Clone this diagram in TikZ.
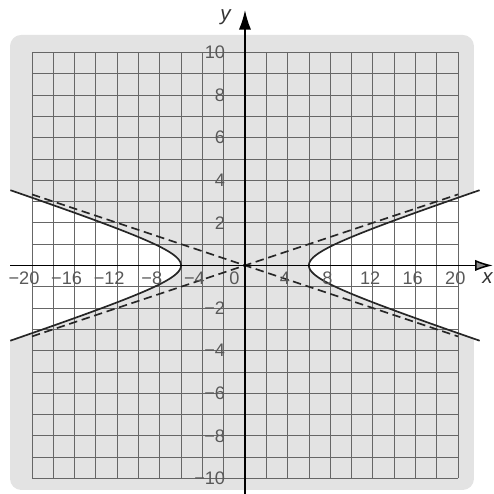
\documentclass[tikz,border=0pt]{standalone}
\usepackage{fontspec}
\setmainfont{Liberation Sans}
\usetikzlibrary{arrows.meta}
\def\tick{\fontsize{9.7}{11}\selectfont}
\def\mn{\llap{−}}

\begin{document}
\begin{tikzpicture}[x=0.2cm,y=0.4cm,font=\tick,text=black!65]
    \useasboundingbox (-23,-10.73) rectangle (23.38,12.46);

    % shaded region, white inside the two branches
    \fill[black!11,rounded corners=6pt] (-22.06,-10.54) rectangle (21.5,10.82);
    \fill[white] plot[domain=-2:2,samples=40] ({-6*cosh(\x)},{sinh(\x)}) -- (-23.5,3.63) -- (-23.5,-3.63) -- cycle;
    \fill[white] plot[domain=-2:2,samples=40] ({6*cosh(\x)},{sinh(\x)}) -- (23.5,3.63) -- (23.5,-3.63) -- cycle;

    \draw[black!60,line width=0.4pt,xstep=2,ystep=1] (-20,-10) grid (20,10);

    % asymptotes
    \coordinate (al) at (-20,-3.333);
    \coordinate (ar) at (20,3.333);
    \coordinate (bl) at (-20,3.333);
    \coordinate (br) at (20,-3.333);
    \draw[black!85,line width=0.9pt,dash pattern=on 4.5pt off 2.5pt] (al) -- (ar);
    \draw[black!85,line width=0.9pt,dash pattern=on 4.5pt off 2.5pt] (bl) -- (br);

    % hyperbola
    \draw[black!85,line width=0.9pt] plot[domain=-1.975:1.975,samples=60,smooth] ({-6*cosh(\x)},{sinh(\x)});
    \draw[black!85,line width=0.9pt] plot[domain=-1.975:1.975,samples=60,smooth] ({6*cosh(\x)},{sinh(\x)});

    % axes
    \coordinate (xl) at (-22.06,0);
    \coordinate (xr) at (23.28,0);
    \coordinate (yb) at (0,-10.73);
    \coordinate (yt) at (0,11.99);
    \draw[line width=0.8pt,-{Latex[length=9.5pt,width=6pt,fill=black!45]}] (xl) -- (xr);
    \draw[line width=0.8pt,-{Latex[length=10.5pt,width=6.5pt]}] (yb) -- (yt);
    \draw (23.38,-0.6) node[anchor=east,inner sep=0.5pt,font=\fontsize{11}{13}\selectfont\itshape,text=black!80] (xlab) {x};
    \draw (-1.83,11.66) node[font=\fontsize{11}{13}\selectfont\itshape,text=black!80] (ylab) {y};

    % x labels
    \draw (-20.25,-0.6) node[] (xm20) {\mn20};
    \draw (-16.25,-0.6) node[] (xm16) {\mn16};
    \draw (-12.25,-0.6) node[] (xm12) {\mn12};
    \draw (-8.25,-0.6) node[] (xm8) {\mn8};
    \draw (-4.25,-0.6) node[] (xm4) {\mn4};
    \draw (-1,-0.6) node[] (orig) {0};
    \draw (3.75,-0.6) node[] (x4) {4};
    \draw (7.75,-0.6) node[] (x8) {8};
    \draw (11.75,-0.6) node[] (x12) {12};
    \draw (15.75,-0.6) node[] (x16) {16};
    \draw (19.75,-0.6) node[] (x20) {20};

    % y labels
    \draw (-1.25,10) node[anchor=east] (y10) {10};
    \draw (-1.25,8) node[anchor=east] (y8) {8};
    \draw (-1.25,6) node[anchor=east] (y6) {6};
    \draw (-1.25,4) node[anchor=east] (y4) {4};
    \draw (-1.25,2) node[anchor=east] (y2) {2};
    \draw (-1.25,-2) node[anchor=east] (ym2) {−2};
    \draw (-1.25,-4) node[anchor=east] (ym4) {−4};
    \draw (-1.25,-6) node[anchor=east] (ym6) {−6};
    \draw (-1.25,-8) node[anchor=east] (ym8) {−8};
    \draw (-1.25,-10) node[anchor=east] (ym10) {−10};

\end{tikzpicture}
\end{document}
